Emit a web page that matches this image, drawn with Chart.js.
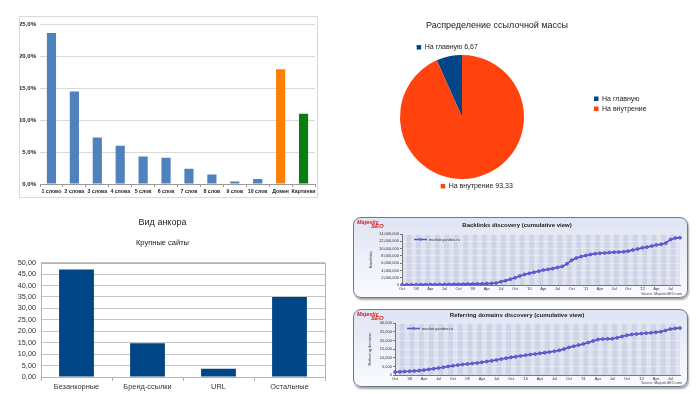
<!DOCTYPE html>
<html>
<head>
<meta charset="utf-8">
<script src="https://cdn.jsdelivr.net/npm/chart.js@4.4.0/dist/chart.umd.min.js"></script>
<style>
body { margin: 0; width: 700px; height: 394px; background: #fff; position: relative; overflow: hidden; }
.box { position: absolute; }
#wordsWrap { left: 19px; top: 16px; width: 297px; height: 180px; border: 1px solid #d9d9d9; }
#pieWrap { left: 340px; top: 0; width: 314px; height: 200px; }
#anchorWrap { left: 0; top: 200px; width: 340px; height: 194px; }
.mj { border: 1px solid #6b7898; border-radius: 8px; background: linear-gradient(#e0e4f3, #fafbff); box-shadow: 1px 2px 2px rgba(0,0,0,0.35); }
#blWrap { left: 353px; top: 217px; width: 333px; height: 79px; }
#rdWrap { left: 353px; top: 309px; width: 333px; height: 76px; }
canvas { display: block; }
</style>
</head>
<body>
<div class="box" id="wordsWrap"><canvas id="words" width="297" height="180"></canvas></div>
<div class="box" id="pieWrap"><canvas id="pie" width="314" height="200"></canvas></div>
<div class="box" id="anchorWrap"><canvas id="anchor" width="340" height="194"></canvas></div>
<div class="box mj" id="blWrap"><canvas id="backlinks" width="333" height="79"></canvas></div>
<div class="box mj" id="rdWrap"><canvas id="domains" width="333" height="76"></canvas></div>
<script>
'use strict';

// длина анкора, % (верхний левый)
var wordCats = ['1 слово', '2 слова', '3 слова', '4 слова', '5 слов', '6 слов', '7 слов', '8 слов', '9 слов', '10 слов', 'Домен', 'Картинки'];
var wordShare = [23.7, 14.5, 7.3, 6.0, 4.3, 4.1, 2.4, 1.5, 0.4, 0.8, 18.0, 11.0];

// распределение ссылочной массы
var pieTitle = 'Распределение ссылочной массы';
var pieCats = ['На главную', 'На внутрение'];
var pieValues = [6.67, 93.33];

// вид анкора
var anchorCats = ['Безанкорные', 'Бренд-ссылки', 'URL', 'Остальные'];
var anchorValues = [47.0, 14.8, 3.6, 35.0];

// majestic: Oct 2007 .. Sep 2012, по месяцам
var quarterTicks = ['Oct', "'08", 'Apr', 'Jul', 'Oct', "'09", 'Apr', 'Jul', 'Oct', "'10", 'Apr', 'Jul', 'Oct', "'11", 'Apr', 'Jul', 'Oct', "'12", 'Apr', 'Jul'];
var backlinks = [50000, 60000, 70000, 80000, 90000, 100000, 110000, 120000, 130000, 150000, 170000, 190000,
  210000, 230000, 250000, 280000, 300000, 330000, 380000, 450000, 550000, 900000, 1200000, 1600000,
  2000000, 2500000, 2900000, 3200000, 3500000, 3800000, 4100000, 4300000, 4500000, 4800000, 5100000, 5800000,
  6800000, 7400000, 7800000, 8100000, 8400000, 8600000, 8700000, 8800000, 8900000, 9000000, 9050000, 9100000,
  9300000, 9600000, 9900000, 10200000, 10400000, 10700000, 11000000, 11200000, 11500000, 12500000, 12900000, 13000000];
var refDomains = [1900, 2000, 2200, 2300, 2500, 2700, 3000, 3400, 3800, 4200, 4600, 5100,
  5500, 5900, 6200, 6500, 6800, 7100, 7500, 7900, 8300, 8800, 9300, 9800,
  10300, 10700, 11100, 11500, 11900, 12200, 12600, 13000, 13400, 13800, 14300, 15100,
  16000, 16700, 17400, 18000, 18800, 19700, 20500, 20800, 20900, 21000, 21500, 22300,
  23000, 23400, 23700, 24000, 24200, 24400, 24700, 25000, 25700, 26500, 26900, 27100];

var monthLabels = [];
quarterTicks.forEach(function (t) { monthLabels.push(t, '', ''); });

Chart.defaults.font.family = "'Liberation Sans', Arial, sans-serif";
Chart.defaults.animation = false;
Chart.defaults.responsive = false;
Chart.defaults.plugins.tooltip.enabled = false;

function comma(v, d) { return v.toFixed(d).replace('.', ','); }

// ---------- chart 1 ----------
new Chart(document.getElementById('words'), {
  type: 'bar',
  data: {
    labels: wordCats,
    datasets: [{
      data: wordShare,
      backgroundColor: wordCats.map(function (c, i) { return i < 10 ? '#4f81bd' : (i === 10 ? '#ff8000' : '#0a7d12'); }),
      barPercentage: 0.4,
      categoryPercentage: 1
    }]
  },
  options: {
    layout: { padding: { top: 6, right: 2, left: 0, bottom: 0 } },
    plugins: { legend: { display: false } },
    scales: {
      x: {
        afterFit: function (s) { s.height = 13; },
        grid: { drawOnChartArea: false, offset: true, tickLength: 3, color: '#999' },
        border: { color: '#999' },
        ticks: { autoSkip: false, maxRotation: 0, padding: 1, color: '#222', font: { size: 5.2, weight: 'bold' } }
      },
      y: {
        min: 0, max: 25,
        afterFit: function (s) { s.width = 20; },
        grid: { color: '#d9d9d9', drawTicks: false },
        border: { display: false },
        ticks: { stepSize: 5, autoSkip: false, padding: 4, color: '#222', font: { size: 6, weight: 'bold' },
          callback: function (v) { return comma(v, 1) + '%'; } }
      }
    }
  }
});

// ---------- chart 2 ----------
// title is centred on the whole canvas, the pie only on the area left of the legend
var pieDecor = {
  id: 'pieDecor',
  afterDraw: function (chart) {
    var ctx = chart.ctx;
    var meta = chart.getDatasetMeta(0);
    var colors = chart.data.datasets[0].backgroundColor;
    ctx.save();
    ctx.textBaseline = 'middle';
    ctx.fillStyle = '#222';
    ctx.textAlign = 'center';
    ctx.font = "9px 'Liberation Sans', Arial, sans-serif";
    ctx.fillText(pieTitle, chart.width / 2, 26);
    ctx.textAlign = 'left';
    ctx.font = "7px 'Liberation Sans', Arial, sans-serif";
    meta.data.forEach(function (arc, i) {
      var mid = (arc.startAngle + arc.endAngle) / 2;
      var px = arc.x + Math.cos(mid) * (arc.outerRadius + 9);
      var py = arc.y + Math.sin(mid) * (arc.outerRadius + 9);
      var txt = chart.data.labels[i] + ' ' + comma(chart.data.datasets[0].data[i], 2);
      var w = 8 + ctx.measureText(txt).width;
      var x0 = px - w / 2;
      ctx.fillStyle = colors[i];
      ctx.fillRect(x0, py - 2.5, 4.5, 4.5);
      ctx.fillStyle = '#222';
      ctx.fillText(txt, x0 + 8, py);
    });
    // legend on the right
    var lx = chart.chartArea.right + 10;
    var cy = (chart.chartArea.top + chart.chartArea.bottom) / 2;
    chart.data.labels.forEach(function (lab, i) {
      var ly = cy - 18 + i * 10;
      ctx.fillStyle = colors[i];
      ctx.fillRect(lx, ly - 2.5, 4.5, 4.5);
      ctx.fillStyle = '#222';
      ctx.fillText(lab, lx + 8, ly);
    });
    ctx.restore();
  }
};

new Chart(document.getElementById('pie'), {
  type: 'pie',
  data: {
    labels: pieCats,
    datasets: [{ data: pieValues, backgroundColor: ['#004586', '#ff420e'], borderWidth: 0 }]
  },
  options: {
    rotation: -pieValues[0] * 3.6,
    layout: { padding: { top: 55, right: 70, bottom: 21, left: 0 } },
    plugins: { legend: { display: false } }
  },
  plugins: [pieDecor]
});

// ---------- chart 3 ----------
var plotBorder = {
  id: 'plotBorder',
  beforeDatasetsDraw: function (chart) {
    var a = chart.chartArea;
    var ctx = chart.ctx;
    ctx.save();
    ctx.strokeStyle = '#b3b3b3';
    ctx.lineWidth = 1;
    ctx.strokeRect(Math.round(a.left) + 0.5, Math.round(a.top) + 0.5, Math.round(a.right - a.left), Math.round(a.bottom - a.top));
    ctx.restore();
  }
};

new Chart(document.getElementById('anchor'), {
  type: 'bar',
  data: {
    labels: anchorCats,
    datasets: [{ data: anchorValues, backgroundColor: '#004586', barPercentage: 0.49, categoryPercentage: 1 }]
  },
  options: {
    layout: { padding: { top: 0, right: 15, left: 0, bottom: 0 } },
    plugins: {
      legend: { display: false },
      title: { display: true, text: 'Вид анкора', color: '#222', font: { size: 9, weight: 'normal' }, padding: { top: 17.6, bottom: 9 } },
      subtitle: { display: true, text: 'Крупные сайты', color: '#222', font: { size: 7.5 }, padding: { top: 1.1, bottom: 15.2 } }
    },
    scales: {
      x: {
        afterFit: function (s) { s.height = 17; },
        grid: { drawOnChartArea: false, offset: true, tickLength: 4, color: '#b3b3b3' },
        border: { color: '#b3b3b3' },
        ticks: { autoSkip: false, maxRotation: 0, padding: 2, color: '#333', font: { size: 7.4 } }
      },
      y: {
        min: 0, max: 50,
        afterFit: function (s) { s.width = 41; },
        grid: { color: '#c4c4c4', drawTicks: false },
        border: { color: '#b3b3b3' },
        ticks: { stepSize: 5, autoSkip: false, padding: 5, color: '#333', font: { size: 7.3 },
          callback: function (v) { return comma(v, 2); } }
      }
    }
  },
  plugins: [plotBorder]
});

// ---------- charts 4, 5 (majestic) ----------
var stripes = {
  id: 'stripes',
  beforeDraw: function (chart) {
    var a = chart.chartArea;
    var xs = chart.scales.x;
    var ctx = chart.ctx;
    ctx.save();
    ctx.fillStyle = '#cfd3e7';
    ctx.fillRect(a.left, a.top, a.right - a.left, a.bottom - a.top);
    ctx.fillStyle = '#dfe2ef';
    for (var i = 0; i < chart.data.labels.length - 1; i += 2) {
      var x1 = xs.getPixelForValue(i);
      var x2 = xs.getPixelForValue(i + 1);
      ctx.fillRect(x1, a.top, x2 - x1, a.bottom - a.top);
    }
    ctx.restore();
  }
};

var majesticExtras = {
  id: 'majesticExtras',
  afterDraw: function (chart) {
    var ctx = chart.ctx;
    var a = chart.chartArea;
    var ds = chart.data.datasets[0];
    ctx.save();
    // logo
    ctx.fillStyle = '#d21f1f';
    ctx.textBaseline = 'middle';
    ctx.font = "italic bold 5.5px 'Liberation Sans', Arial, sans-serif";
    ctx.fillText('Majestic', 3, 4);
    ctx.font = "italic bold 6px 'Liberation Sans', Arial, sans-serif";
    ctx.fillText('SEO', 17, 8.5);
    // legend inside the plot
    var lx = a.left + 12, ly = a.top + 5.5;
    ctx.strokeStyle = ds.borderColor;
    ctx.lineWidth = 1.5;
    ctx.beginPath();
    ctx.moveTo(lx, ly);
    ctx.lineTo(lx + 13, ly);
    ctx.stroke();
    ctx.fillStyle = ds.pointBackgroundColor;
    ctx.beginPath();
    ctx.arc(lx + 6.5, ly, 1.4, 0, Math.PI * 2);
    ctx.fill();
    ctx.fillStyle = '#333';
    ctx.font = "4px 'Liberation Sans', Arial, sans-serif";
    ctx.fillText(ds.label, lx + 15, ly);
    // source
    ctx.textAlign = 'right';
    ctx.font = "3.5px 'Liberation Sans', Arial, sans-serif";
    ctx.fillStyle = '#444';
    ctx.fillText('Source: MajesticSEO.com', chart.width - 5, chart.height - 3);
    ctx.restore();
  }
};

function majestic(id, titleText, axisText, values, geo) {
  return new Chart(document.getElementById(id), {
    type: 'line',
    data: {
      labels: monthLabels,
      datasets: [{
        label: 'market.yandex.ru',
        data: values,
        borderColor: '#5a4fd1',
        borderWidth: 1.6,
        pointRadius: 1.5,
        pointBackgroundColor: '#6f63e0',
        pointBorderColor: '#463bb3',
        pointBorderWidth: 0.6,
        tension: 0
      }]
    },
    options: {
      layout: { padding: { top: 0, right: 7, left: 0, bottom: 0 } },
      plugins: {
        legend: { display: false },
        title: { display: true, text: titleText, color: '#222', font: { size: 6, weight: 'bold' },
          padding: { top: geo.titleTop, bottom: geo.titleBottom } }
      },
      scales: {
        x: {
          afterFit: function (s) { s.height = geo.xh; },
          grid: { drawOnChartArea: false, drawTicks: false, tickLength: 0 },
          border: { color: '#777' },
          ticks: { autoSkip: false, maxRotation: 0, padding: geo.xpad, color: '#333', font: { size: 4 } }
        },
        y: {
          min: 0, max: geo.max,
          afterFit: function (s) { s.width = geo.yw; },
          grid: { color: 'rgba(255,255,255,0.35)', tickLength: 2, tickColor: '#777' },
          border: { color: '#777' },
          ticks: { stepSize: geo.step, autoSkip: false, padding: 1, color: '#333', font: { size: 4 },
            callback: function (v) { return v.toLocaleString('en-US'); } },
          title: { display: true, text: axisText, color: '#333', font: { size: 4 }, padding: { top: geo.ytitle } }
        }
      }
    },
    plugins: [stripes, majesticExtras]
  });
}

majestic('backlinks', 'Backlinks discovery (cumulative view)', 'Backlinks', backlinks,
  { titleTop: 3.4, titleBottom: 5.4, xh: 12, xpad: 1.6, yw: 48, max: 14000000, step: 2000000, ytitle: 14.6 });
majestic('domains', 'Referring domains discovery (cumulative view)', 'Referring domains', refDomains,
  { titleTop: 1.4, titleBottom: 4.4, xh: 10.7, xpad: 1.3, yw: 41, max: 30000, step: 5000, ytitle: 13.6 });
</script>
</body>
</html>
